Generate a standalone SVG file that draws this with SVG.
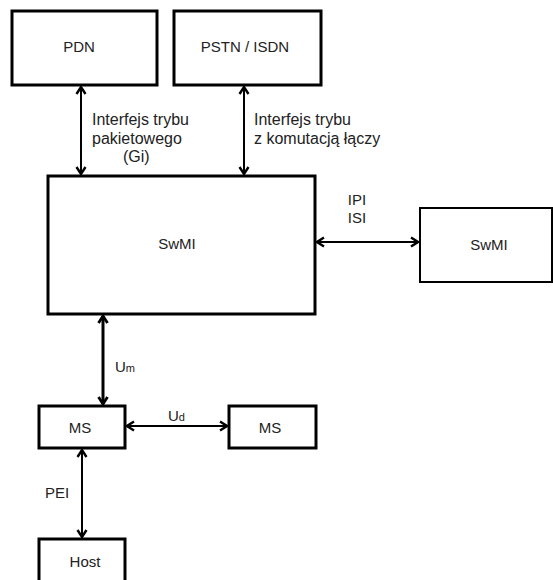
<svg xmlns="http://www.w3.org/2000/svg" width="553" height="580" viewBox="0 0 553 580">
<style>
.box{fill:#fff;stroke:#000;stroke-width:3}
.box2{fill:#fff;stroke:#000;stroke-width:2}
.t{font-family:"Liberation Sans",Arial,sans-serif;font-size:15px;fill:#222}
.l{font-family:"Liberation Sans",Arial,sans-serif;font-size:16px;fill:#222}
.c{stroke:#000;stroke-width:2;fill:none;marker-start:url(#ah);marker-end:url(#ah)}
.c3{stroke:#000;stroke-width:3;fill:none;marker-start:url(#ah3);marker-end:url(#ah3)}
</style>
<defs>
<marker id="ah" markerUnits="userSpaceOnUse" viewBox="-10 -7 12 14" markerWidth="12" markerHeight="14" refX="0" refY="0" orient="auto-start-reverse">
<path d="M-7,-4.5 L0,0 L-7,4.5" fill="none" stroke="#000" stroke-width="2.4" stroke-linejoin="miter"/>
</marker>
<marker id="ah3" markerUnits="userSpaceOnUse" viewBox="-10 -7 12 14" markerWidth="12" markerHeight="14" refX="0" refY="0" orient="auto-start-reverse">
<path d="M-7,-4.5 L0,0 L-7,4.5" fill="none" stroke="#000" stroke-width="2.8" stroke-linejoin="miter"/>
</marker>
</defs>
<rect width="553" height="580" fill="#fff"/>
<g id="connectors">
<line class="c" x1="81" y1="87" x2="81" y2="174"/>
<line class="c" x1="244" y1="87" x2="244" y2="174"/>
<line class="c" x1="317" y1="242" x2="418" y2="242"/>
<line class="c3" x1="103" y1="316" x2="103" y2="404"/>
<line class="c" x1="127" y1="426" x2="227" y2="426"/>
<line class="c" x1="82" y1="450" x2="82" y2="537"/>
<text class="l" x="92" y="125">Interfejs trybu</text>
<text class="l" x="92" y="144">pakietowego</text>
<text class="l" x="123" y="162">(Gi)</text>
<text class="l" x="254" y="125">Interfejs trybu</text>
<text class="l" x="254" y="144">z komutacją łączy</text>
<text class="t" x="357" y="205" text-anchor="middle">IPI</text>
<text class="t" x="357" y="223" text-anchor="middle">ISI</text>
<text class="t" x="115" y="372">U<tspan font-size="11">m</tspan></text>
<text class="t" x="168" y="421">U<tspan font-size="11">d</tspan></text>
<text class="t" x="45" y="498">PEI</text>
</g>
<g id="pdn"><rect class="box" x="12" y="11" width="145" height="74"/><text class="t" x="79" y="52" text-anchor="middle">PDN</text></g>
<g id="pstn"><rect class="box" x="174" y="11" width="147" height="74"/><text class="t" x="245" y="52" text-anchor="middle">PSTN / ISDN</text></g>
<g id="swmi"><rect class="box" x="48" y="176" width="267" height="138"/><text class="t" x="177" y="249" text-anchor="middle">SwMI</text></g>
<g id="swmi2"><rect class="box2" x="420" y="208" width="132" height="74"/><text class="t" x="489" y="250" text-anchor="middle">SwMI</text></g>
<g id="ms1"><rect class="box" x="39" y="406" width="86" height="42"/><text class="t" x="80" y="433" text-anchor="middle">MS</text></g>
<g id="ms2"><rect class="box" x="229" y="406" width="87" height="42"/><text class="t" x="270" y="433" text-anchor="middle">MS</text></g>
<g id="host"><rect class="box" x="39" y="539" width="86" height="50"/><text class="t" x="85" y="567" text-anchor="middle">Host</text></g>
</svg>
